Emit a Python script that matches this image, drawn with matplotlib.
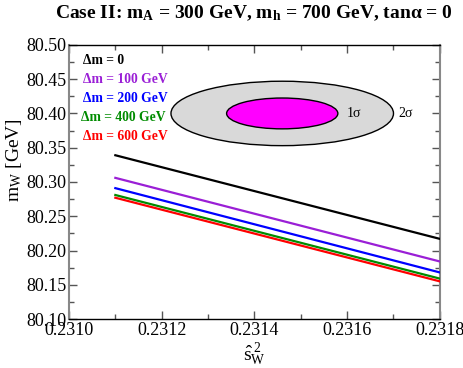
import matplotlib
matplotlib.use("Agg")
import matplotlib.pyplot as plt
from matplotlib.patches import Ellipse
from matplotlib.ticker import MultipleLocator, FormatStrFormatter

plt.rcParams['font.family'] = ['Liberation Serif', 'DejaVu Serif']
plt.rcParams['mathtext.fontset'] = 'custom'
plt.rcParams['mathtext.rm'] = 'Liberation Serif'
plt.rcParams['mathtext.it'] = 'Liberation Serif'
plt.rcParams['mathtext.bf'] = 'Liberation Serif:bold'

# Data
x_range = [0.2311, 0.2318]
labels = ["Δm = 0", "Δm = 100 GeV", "Δm = 200 GeV", "Δm = 400 GeV", "Δm = 600 GeV"]
colors = ["#000000", "#9a1fd6", "#0000ff", "#008c00", "#ff0000"]
mw_start = [80.339, 80.306, 80.291, 80.281, 80.277]
mw_end = [80.217, 80.184, 80.168, 80.159, 80.155]

# experimental ellipse
ell_center = (0.23146, 80.400)
ell_2sigma = (0.00048, 0.094)
ell_1sigma = (0.00024, 0.045)

fig = plt.figure(figsize=(4.63, 3.68), dpi=100)
ax = fig.add_axes([0.149, 0.133, 0.801, 0.745])

ax.add_patch(Ellipse(ell_center, ell_2sigma[0], ell_2sigma[1],
                     facecolor='#d9d9d9', edgecolor='black', lw=1.0, zorder=1))
ax.add_patch(Ellipse(ell_center, ell_1sigma[0], ell_1sigma[1],
                     facecolor='#ff00ff', edgecolor='black', lw=1.0, zorder=2))
ax.text(0.23160, 80.400, "1σ", fontsize=10, va='center', ha='left')
ax.text(0.23171, 80.400, "2σ", fontsize=10, va='center', ha='left')

for s, e, c in zip(mw_start, mw_end, colors):
    ax.plot(x_range, [s, e], color=c, lw=1.6, zorder=3)

ty = [0.942, 0.873, 0.804, 0.735, 0.666]
for i, (lab, c, y) in enumerate(zip(labels, colors, ty)):
    xo = 0.038 if i != 3 else 0.032
    ax.text(xo, y, lab, color=c, fontsize=9.8, fontweight='bold',
            transform=ax.transAxes, va='center', ha='left')

ax.set_xlim(0.2310, 0.2318)
ax.set_ylim(80.10, 80.50)
ax.xaxis.set_major_locator(MultipleLocator(0.0002))
ax.xaxis.set_minor_locator(MultipleLocator(0.0001))
ax.yaxis.set_major_locator(MultipleLocator(0.05))
ax.yaxis.set_minor_locator(MultipleLocator(0.025))
ax.xaxis.set_major_formatter(FormatStrFormatter('%.4f'))
ax.yaxis.set_major_formatter(FormatStrFormatter('%.2f'))
ax.tick_params(which='both', direction='in', top=True, right=True,
               labelsize=13, color='#555555', pad=2)
ax.tick_params(which='major', length=6, width=1)
ax.tick_params(which='minor', length=3.5, width=1)
for side in ['left', 'right']:
    ax.spines[side].set_color('#888888')
    ax.spines[side].set_linewidth(1.5)
for side in ['top', 'bottom']:
    ax.spines[side].set_color('black')
    ax.spines[side].set_linewidth(1.0)

ax.set_xlabel(r'$\hat{\mathrm{s}}_{\mathrm{W}}^{\;2}$', fontsize=14, labelpad=2)
ax.set_ylabel(r'm$_{\mathrm{W}}$ [GeV]', fontsize=14)
ax.yaxis.set_label_coords(-0.121, 0.58)

fig.text(0.549, 0.965, r'Case II: m$_{\mathbf{A}}$ = 300 GeV, m$_{\mathbf{h}}$ = 700 GeV, tanα = 0',
         fontsize=14, fontweight='bold', ha='center', va='center')

fig.savefig("out.png", dpi=100)
